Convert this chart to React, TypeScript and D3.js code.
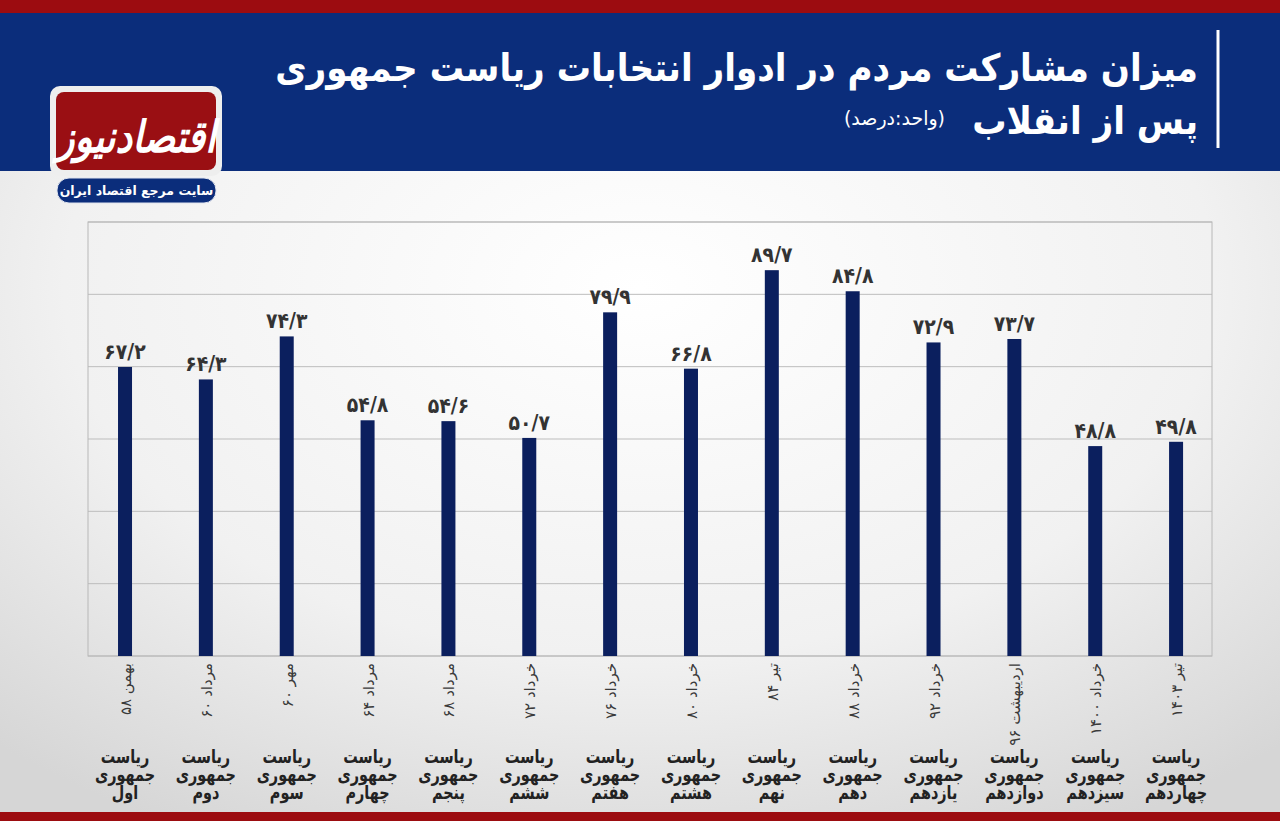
import React from "react";
import * as d3 from "d3";

const categories = ["اول", "دوم", "سوم", "چهارم", "پنجم", "ششم", "هفتم", "هشتم", "نهم", "دهم", "یازدهم", "دوازدهم", "سیزدهم", "چهاردهم"];
const dates = ["بهمن ۵۸", "مرداد ۶۰", "مهر ۶۰", "مرداد ۶۴", "مرداد ۶۸", "خرداد ۷۲", "خرداد ۷۶", "خرداد ۸۰", "تیر ۸۴", "خرداد ۸۸", "خرداد ۹۲", "اردیبهشت ۹۶", "خرداد ۱۴۰۰", "تیر ۱۴۰۳"];
const values = [67.2, 64.3, 74.3, 54.8, 54.6, 50.7, 79.9, 66.8, 89.7, 84.8, 72.9, 73.7, 48.8, 49.8];
const yMax = 100.9;
const gridCount = 6;

const titleLine1 = "میزان مشارکت مردم در ادوار انتخابات ریاست جمهوری";
const titleLine2 = "پس از انقلاب";
const unitText = "(واحد:درصد)";
const logoText = "اقتصادنیوز";
const logoSub = "سایت مرجع اقتصاد ایران";

const faDigits = "۰۱۲۳۴۵۶۷۸۹";
const toFa = (v: number) =>
  v.toFixed(1).replace(".", "/").replace(/[0-9]/g, (d) => faDigits[+d]);

const FONT = "'DejaVu Sans', sans-serif";

export default function App() {
  const W = 1280, H = 821;
  const plot = { left: 88, right: 1212, top: 222, bottom: 656 };
  const y = d3.scaleLinear().domain([0, yMax]).range([plot.bottom, plot.top]);
  const x = d3.scaleBand<string>().domain(categories).range([84.6, 1216.5]).padding(0);
  const barW = 14;
  const grid = d3.range(0, gridCount + 1).map((i) => (i * yMax) / gridCount);

  return (
    <svg width={W} height={H} style={{ position: "absolute", left: 0, top: 0 }} fontFamily={FONT}>
      <defs>
        <radialGradient id="bg" cx="0.5" cy="0.35" r="0.75">
          <stop offset="0" stopColor="#ffffff" />
          <stop offset="0.6" stopColor="#f1f1f1" />
          <stop offset="1" stopColor="#d6d6d6" />
        </radialGradient>
      </defs>
      <rect x={0} y={0} width={W} height={H} fill="url(#bg)" />
      {/* header */}
      <rect x={0} y={0} width={W} height={13} fill="#9c0c10" />
      <rect x={0} y={13} width={W} height={158} fill="#0b2d7b" />
      <rect x={0} y={812} width={W} height={9} fill="#9c0c10" />
      <line x1={1218} x2={1218} y1={30} y2={148} stroke="#ffffff" strokeWidth={3} />
      <g transform="translate(1198,0) scale(0.9,1)">
        <text x={0} y={81} direction="rtl" textAnchor="start" fill="#fff" fontSize={38} fontWeight="bold">
          {titleLine1}
        </text>
        <text x={0} y={134} direction="rtl" textAnchor="start" fill="#fff" fontSize={38} fontWeight="bold">
          {titleLine2}
        </text>
      </g>
      <g transform="translate(945,0) scale(0.95,1)">
        <text x={0} y={125} direction="rtl" textAnchor="start" fill="#fff" fontSize={20}>
          {unitText}
        </text>
      </g>
      {/* logo */}
      <rect x={50} y={86} width={172} height={90} rx={10} fill="#eeeeee" />
      <rect x={56} y={92} width={160} height={78} rx={8} fill="#9a0f13" />
      <g transform="translate(136,0) scale(0.85,1)">
        <text x={0} y={152} textAnchor="middle" fill="#fff" fontSize={44} fontWeight="bold" fontStyle="italic">
          {logoText}
        </text>
      </g>
      <rect x={57} y={178} width={159} height={25} rx={12} fill="#0b2d7b" stroke="#dfe3ee" strokeWidth={1} />
      <text x={136.5} y={195} textAnchor="middle" fill="#fff" fontSize={12.5} fontWeight="bold">
        {logoSub}
      </text>
      {/* grid */}
      {grid.map((g, i) => (
        <line key={i} x1={plot.left} x2={plot.right} y1={y(g)} y2={y(g)} stroke="#bdbdbd" strokeWidth={1} />
      ))}
      <rect x={plot.left} y={plot.top} width={plot.right - plot.left} height={plot.bottom - plot.top} fill="none" stroke="#b8b8b8" />
      {/* bars */}
      {categories.map((c, i) => {
        const cx = (x(c) as number) + x.bandwidth() / 2;
        return (
          <g key={c}>
            <rect x={cx - barW / 2} y={y(values[i])} width={barW} height={plot.bottom - y(values[i])} fill="#0b1f5e" />
            <g transform={`translate(${cx},0) scale(0.9,1)`}>
              <text x={0} y={y(values[i]) - 8} textAnchor="middle" fill="#333" fontSize={21} fontWeight="bold">
                {toFa(values[i])}
              </text>
            </g>
            <text
              transform={`translate(${cx + 6},${663}) rotate(-90)`}
              direction="rtl"
              textAnchor="start"
              fill="#3a3a3a"
              fontSize={15}
            >
              {dates[i]}
            </text>
            <g transform={`translate(${cx},0) scale(0.76,1)`}>
              <text textAnchor="middle" fill="#222" fontSize={19} fontWeight="bold">
                <tspan x={0} y={763}>ریاست</tspan>
                <tspan x={0} y={781}>جمهوری</tspan>
                <tspan x={0} y={799}>{c}</tspan>
              </text>
            </g>
          </g>
        );
      })}
    </svg>
  );
}
